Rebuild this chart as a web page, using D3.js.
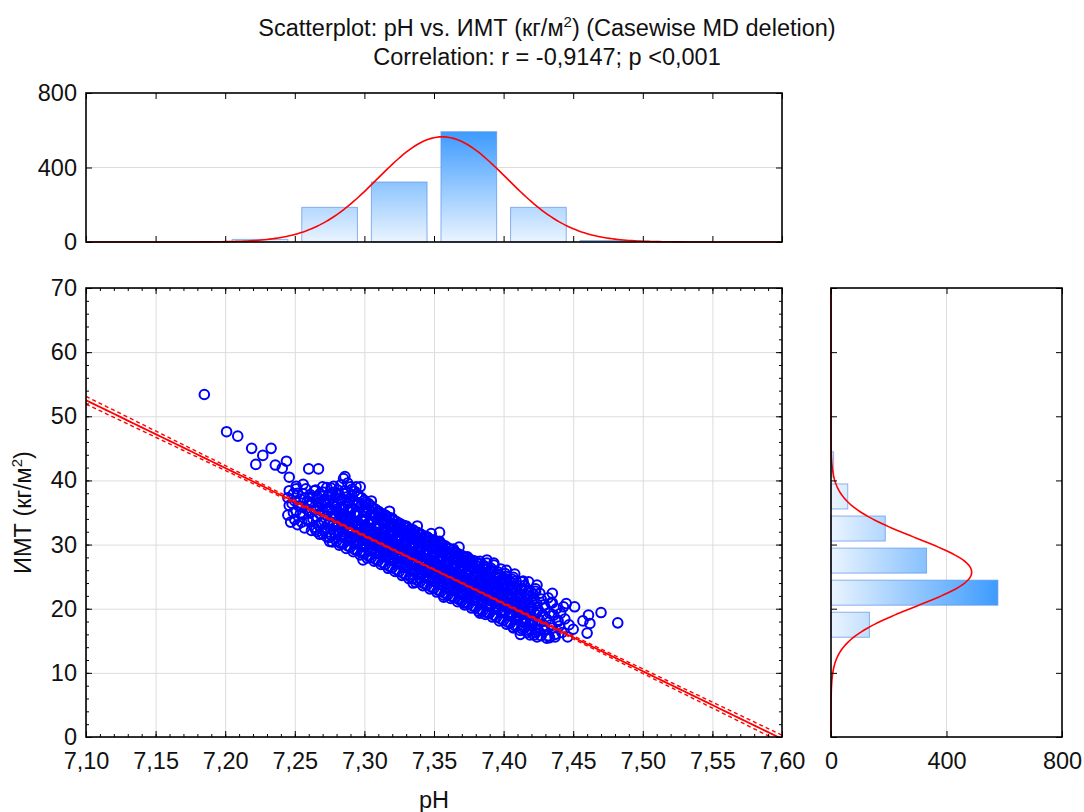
<!DOCTYPE html>
<html>
<head>
<meta charset="utf-8">
<script src="https://cdn.jsdelivr.net/npm/d3@7"></script>
<style>
  body { margin: 0; background: #fff; }
</style>
</head>
<body>
<script>
const width = 1084;
const height = 812;
const FONT = "'Liberation Sans', Arial, sans-serif";
const FS = 23.5;

// ---- data ----
const titleLines = ["Scatterplot: pH vs. ИМТ (кг/м", ") (Casewise MD deletion)"];
const subtitle = "Correlation: r = -0,9147; p <0,001";

const xTicks = [7.10, 7.15, 7.20, 7.25, 7.30, 7.35, 7.40, 7.45, 7.50, 7.55, 7.60];
const yTicks = [0, 10, 20, 30, 40, 50, 60, 70];
const countTicks = [0, 400, 800];

// pH histogram (top)
const phBinEdges = [7.20, 7.25, 7.30, 7.35, 7.40, 7.45, 7.50];
const phBinCounts = [14, 186, 322, 592, 186, 8];
// BMI histogram (right)
const bmiBinEdges = [15, 20, 25, 30, 35, 40, 45];
const bmiBinCounts = [133, 578, 331, 188, 58, 9];

// fitted normal curves
const phMean = 7.356, phSd = 0.0462;
const bmiMean = 25.7, bmiSd = 5.31;

// regression line BMI = fitAt710 + fitSlope*(pH-7.10), 95% band half width
const fitAt710 = 52.5, fitSlope = -105.6;
const bandMin = 0.1, bandGrowth = 2.33;

// observations [pH, BMI]
const observations = [
  [7.185,53.4],[7.201,47.6],[7.209,46.9],[7.219,45.0],[7.233,45.0],[7.227,43.9],[7.222,42.5],[7.244,43.0],
  [7.236,42.4],[7.241,41.9],[7.260,41.8],[7.267,41.8],[7.246,40.5],[7.256,39.4],[7.251,39.1],[7.270,39.0],
  [7.278,39.1],[7.285,40.3],[7.286,40.6],[7.294,39.0],[7.301,36.2],[7.311,34.6],[7.324,33.1],[7.333,32.1],
  [7.344,31.3],[7.354,31.9],[7.354,30.5],[7.364,29.3],[7.374,28.1],[7.383,27.4],[7.393,27.1],[7.413,24.2],
  [7.424,23.7],[7.435,22.4],[7.445,20.8],[7.451,20.3],[7.461,19.0],[7.470,19.4],[7.457,18.1],[7.462,17.7],
  [7.482,17.8],[7.460,16.2],[7.447,17.5],[7.450,16.8],[7.439,18.2],[7.437,15.6],[7.433,15.5],[7.424,15.6],
  [7.419,15.9],[7.429,16.7],[7.446,15.6],
  [7.297,39.0],[7.305,36.8],[7.318,35.2],[7.338,32.9],[7.348,31.7],[7.368,29.6],[7.388,27.6],[7.402,26.0],
  [7.408,25.4],[7.418,24.2],[7.275,30.5],[7.299,27.6],[7.335,24.0],[7.357,21.8],[7.371,20.9],[7.383,19.3],
  [7.407,17.0],[7.412,16.0],[7.431,15.4],
  [7.247,33.5],[7.245,34.6],[7.249,35.0],[7.246,36.1],[7.248,36.4],[7.245,37.3],[7.249,37.9],[7.246,38.4],
  [7.252,33.1],[7.250,33.9],[7.254,34.8],[7.251,35.2],[7.253,36.0],[7.250,36.8],[7.254,37.1],[7.252,38.0],[7.251,38.7],
  [7.257,32.6],[7.255,33.5],[7.259,33.9],[7.256,34.7],[7.258,35.6],[7.255,35.9],[7.259,36.8],[7.257,37.2],[7.256,37.9],[7.258,38.7],
  [7.262,32.2],[7.264,32.7],[7.260,33.6],[7.263,34.0],[7.261,34.9],[7.264,35.4],[7.260,36.2],[7.262,36.5],[7.263,37.4],[7.261,37.8],[7.264,38.4],
  [7.268,31.6],[7.265,32.3],[7.267,33.1],[7.269,33.4],[7.266,34.3],[7.268,34.8],[7.265,35.5],[7.269,36.3],[7.267,36.6],[7.266,37.5],[7.268,37.9],[7.265,38.5],
  [7.273,31.2],[7.270,31.7],[7.272,32.6],[7.274,33.2],[7.271,33.7],[7.273,34.5],[7.270,35.1],[7.274,35.7],[7.272,36.4],[7.271,37.0],[7.274,37.6],[7.270,38.2],[7.273,38.9],
  [7.277,30.4],[7.275,31.1],[7.279,31.6],[7.276,32.4],[7.278,33.1],[7.275,33.5],[7.279,34.3],[7.277,34.9],[7.276,35.4],[7.278,36.2],[7.275,36.9],[7.279,37.4],[7.277,38.1],[7.276,38.8],
  [7.282,29.9],[7.280,30.5],[7.284,31.3],[7.281,31.8],[7.283,32.6],[7.280,33.0],[7.282,33.9],[7.284,34.4],[7.281,35.1],[7.283,35.8],[7.280,36.3],[7.284,37.1],[7.282,37.7],[7.281,38.5],[7.283,39.3],
  [7.287,29.4],[7.285,30.2],[7.289,30.6],[7.286,31.5],[7.288,32.1],[7.285,32.8],[7.289,33.3],[7.287,34.1],[7.286,34.7],[7.288,35.3],[7.285,36.0],[7.289,36.8],[7.287,37.4],[7.286,38.4],[7.288,39.6],
  [7.292,28.9],[7.290,29.6],[7.294,30.1],[7.291,30.9],[7.293,31.4],[7.290,32.2],[7.294,32.7],[7.292,33.5],[7.291,34.0],[7.293,34.8],[7.290,35.5],[7.294,36.1],[7.292,36.9],[7.291,37.6],[7.293,38.3],[7.290,39.0],
  [7.297,28.4],[7.295,29.1],[7.299,29.7],[7.296,30.3],[7.298,30.8],[7.295,31.6],[7.299,32.1],[7.297,32.8],[7.296,33.3],[7.298,34.0],[7.295,34.6],[7.299,35.3],[7.297,35.9],[7.296,36.5],[7.298,37.3],[7.295,37.9],
  [7.302,27.9],[7.300,28.6],[7.304,29.0],[7.301,29.8],[7.303,30.3],[7.300,31.0],[7.304,31.5],[7.302,32.2],[7.301,32.7],[7.303,33.4],[7.300,33.9],[7.304,34.6],[7.302,35.2],[7.301,35.8],[7.303,36.4],[7.300,36.9],
  [7.307,27.4],[7.305,28.0],[7.309,28.7],[7.306,29.2],[7.308,29.8],[7.305,30.5],[7.309,30.9],[7.307,31.6],[7.306,32.1],[7.308,32.8],[7.305,33.4],[7.309,33.9],[7.307,34.6],[7.306,35.1],[7.308,35.5],[7.305,36.0],
  [7.312,26.9],[7.310,27.5],[7.314,28.1],[7.311,28.6],[7.313,29.3],[7.310,29.8],[7.314,30.4],[7.312,30.9],[7.311,31.5],[7.313,32.1],[7.310,32.6],[7.314,33.2],[7.312,33.8],[7.311,34.3],[7.313,34.8],[7.310,35.2],
  [7.317,26.3],[7.315,26.9],[7.319,27.6],[7.316,28.1],[7.318,28.7],[7.315,29.2],[7.319,29.9],[7.317,30.4],[7.316,30.9],[7.318,31.6],[7.315,32.1],[7.319,32.7],[7.317,33.2],[7.316,33.8],[7.318,34.2],[7.315,34.6],
  [7.322,25.8],[7.320,26.4],[7.324,27.0],[7.321,27.5],[7.323,28.2],[7.320,28.7],[7.324,29.3],[7.322,29.8],[7.321,30.4],[7.323,31.0],[7.320,31.5],[7.324,32.1],[7.322,32.7],[7.321,33.2],[7.323,33.6],[7.320,34.1],
  [7.327,25.2],[7.325,25.8],[7.329,26.5],[7.326,27.0],[7.328,27.6],[7.325,28.1],[7.329,28.8],[7.327,29.3],[7.326,29.8],[7.328,30.4],[7.325,31.0],[7.329,31.5],[7.327,32.1],[7.326,32.6],[7.328,33.0],[7.325,33.3],
  [7.332,24.7],[7.330,25.3],[7.334,25.9],[7.331,26.4],[7.333,27.1],[7.330,27.6],[7.334,28.2],[7.332,28.7],[7.331,29.3],[7.333,29.9],[7.330,30.4],[7.334,31.0],[7.332,31.5],[7.331,32.0],[7.333,32.4],[7.330,32.9],
  [7.337,24.1],[7.335,24.7],[7.339,25.4],[7.336,25.9],[7.338,26.5],[7.335,27.0],[7.339,27.7],[7.337,28.2],[7.336,28.7],[7.338,29.3],[7.335,29.9],[7.339,30.4],[7.337,31.0],[7.336,31.5],[7.338,31.9],[7.335,32.3],
  [7.342,23.6],[7.340,24.2],[7.344,24.8],[7.341,25.3],[7.343,26.0],[7.340,26.5],[7.344,27.1],[7.342,27.6],[7.341,28.2],[7.343,28.7],[7.340,29.3],[7.344,29.8],[7.342,30.4],[7.341,30.9],[7.343,31.3],[7.340,31.7],
  [7.347,23.1],[7.345,23.7],[7.349,24.3],[7.346,24.8],[7.348,25.5],[7.345,26.0],[7.349,26.6],[7.347,27.1],[7.346,27.7],[7.348,28.2],[7.345,28.8],[7.349,29.3],[7.347,29.9],[7.346,30.4],[7.348,30.8],[7.345,31.2],
  [7.352,22.6],[7.350,23.2],[7.354,23.8],[7.351,24.3],[7.353,25.0],[7.350,25.5],[7.354,26.1],[7.352,26.6],[7.351,27.2],[7.353,27.7],[7.350,28.3],[7.354,28.8],[7.352,29.4],[7.351,29.9],[7.353,30.3],[7.350,30.7],
  [7.357,22.1],[7.355,22.7],[7.359,23.3],[7.356,23.8],[7.358,24.5],[7.355,25.0],[7.359,25.6],[7.357,26.1],[7.356,26.7],[7.358,27.2],[7.355,27.8],[7.359,28.3],[7.357,28.9],[7.356,29.4],[7.358,29.8],[7.355,30.2],
  [7.362,21.6],[7.360,22.2],[7.364,22.8],[7.361,23.3],[7.363,23.9],[7.360,24.4],[7.364,25.0],[7.362,25.5],[7.361,26.1],[7.363,26.6],[7.360,27.2],[7.364,27.7],[7.362,28.2],[7.361,28.7],[7.363,29.1],[7.360,29.5],
  [7.367,21.1],[7.365,21.7],[7.369,22.3],[7.366,22.8],[7.368,23.4],[7.365,23.9],[7.369,24.5],[7.367,25.0],[7.366,25.6],[7.368,26.1],[7.365,26.7],[7.369,27.2],[7.367,27.7],[7.366,28.1],[7.368,28.5],[7.365,28.9],
  [7.372,20.6],[7.370,21.2],[7.374,21.8],[7.371,22.3],[7.373,22.9],[7.370,23.4],[7.374,24.0],[7.372,24.5],[7.371,25.1],[7.373,25.6],[7.370,26.2],[7.374,26.7],[7.372,27.2],[7.371,27.6],[7.373,28.0],[7.370,28.3],
  [7.377,20.1],[7.375,20.7],[7.379,21.3],[7.376,21.8],[7.378,22.4],[7.375,22.9],[7.379,23.5],[7.377,24.0],[7.376,24.6],[7.378,25.1],[7.375,25.7],[7.379,26.2],[7.377,26.7],[7.376,27.1],[7.378,27.5],[7.375,27.8],
  [7.382,19.6],[7.380,20.2],[7.384,20.8],[7.381,21.3],[7.383,21.9],[7.380,22.4],[7.384,23.0],[7.382,23.5],[7.381,24.1],[7.383,24.6],[7.380,25.2],[7.384,25.7],[7.382,26.2],[7.381,26.6],[7.383,27.0],[7.380,27.4],
  [7.387,19.1],[7.385,19.7],[7.389,20.4],[7.386,20.9],[7.388,21.5],[7.385,22.1],[7.389,22.7],[7.387,23.3],[7.386,23.9],[7.388,24.5],[7.385,25.1],[7.389,25.6],[7.387,26.1],[7.386,26.7],[7.388,27.1],
  [7.392,18.7],[7.390,19.3],[7.394,20.0],[7.391,20.5],[7.393,21.1],[7.390,21.7],[7.394,22.3],[7.392,22.9],[7.391,23.5],[7.393,24.1],[7.390,24.7],[7.394,25.2],[7.392,25.8],[7.391,26.3],[7.393,26.8],
  [7.397,18.1],[7.395,18.7],[7.399,19.4],[7.396,19.9],[7.398,20.5],[7.395,21.1],[7.399,21.7],[7.397,22.3],[7.396,22.9],[7.398,23.5],[7.395,24.1],[7.399,24.6],[7.397,25.2],[7.396,25.7],[7.398,26.2],
  [7.402,17.6],[7.400,18.2],[7.404,18.9],[7.401,19.5],[7.403,20.1],[7.400,20.7],[7.404,21.4],[7.402,22.0],[7.401,22.6],[7.403,23.2],[7.400,23.8],[7.404,24.4],[7.402,25.0],[7.401,25.5],
  [7.407,17.1],[7.405,17.8],[7.409,18.4],[7.406,19.1],[7.408,19.7],[7.405,20.4],[7.409,21.0],[7.407,21.7],[7.406,22.3],[7.408,23.0],[7.405,23.6],[7.409,24.3],[7.407,24.9],
  [7.412,16.6],[7.410,17.3],[7.414,18.0],[7.411,18.7],[7.413,19.4],[7.410,20.1],[7.414,20.8],[7.412,21.5],[7.411,22.2],[7.413,22.9],[7.410,23.6],[7.414,24.3],
  [7.417,16.3],[7.415,17.0],[7.419,17.8],[7.416,18.5],[7.418,19.2],[7.415,19.9],[7.419,20.6],[7.417,21.4],[7.416,22.1],[7.418,22.9],[7.415,23.6],
  [7.422,15.9],[7.420,16.7],[7.424,17.5],[7.421,18.3],[7.423,19.1],[7.420,19.9],[7.424,20.7],[7.422,21.5],[7.421,22.3],[7.423,23.1],
  [7.427,15.8],[7.425,16.6],[7.429,17.4],[7.426,18.2],[7.428,19.0],[7.425,19.8],[7.429,20.6],[7.427,21.5],[7.426,22.4],
  [7.432,15.8],[7.430,16.6],[7.434,17.5],[7.431,18.4],[7.433,19.3],[7.430,20.1],[7.434,20.9],[7.432,21.7],
  [7.437,16.0],[7.435,17.0],[7.439,18.0],[7.436,19.0],[7.438,20.0],[7.435,20.9],
  [7.442,16.3],[7.440,17.3],[7.444,18.4],[7.441,19.3],[7.443,20.3],
  // denser core
  [7.266,32.0],[7.268,35.9],[7.266,37.1],[7.271,32.2],[7.273,35.4],[7.271,36.7],[7.276,31.5],[7.278,34.6],[7.276,37.8],
  [7.283,30.2],[7.281,32.2],[7.284,33.6],[7.280,35.5],[7.283,36.9],[7.281,38.0],
  [7.288,29.8],[7.286,31.1],[7.289,32.4],[7.285,34.4],[7.288,36.4],[7.286,37.9],
  [7.293,29.2],[7.291,31.8],[7.294,33.1],[7.290,34.3],[7.293,36.5],[7.291,38.6],
  [7.298,28.7],[7.296,31.1],[7.299,33.6],[7.295,35.0],[7.298,36.2],[7.296,37.5],
  [7.303,28.2],[7.301,30.6],[7.304,32.0],[7.300,33.0],[7.303,35.5],[7.301,36.6],
  [7.308,27.7],[7.306,30.1],[7.309,31.3],[7.305,32.4],[7.308,34.3],[7.306,35.7],
  [7.313,27.2],[7.311,29.5],[7.314,31.2],[7.310,31.9],[7.313,33.5],[7.311,34.9],
  [7.318,26.6],[7.316,28.9],[7.319,30.3],[7.315,31.4],[7.318,32.9],[7.316,34.4],
  [7.323,26.1],[7.321,28.4],[7.324,29.6],[7.320,30.9],[7.323,32.4],[7.321,33.8],
  [7.328,25.5],[7.326,27.8],[7.329,29.0],[7.325,30.7],[7.328,31.8],[7.326,33.2],
  [7.333,25.0],[7.331,27.3],[7.334,28.5],[7.330,29.8],[7.333,31.2],[7.331,32.6],
  [7.338,24.4],[7.336,26.7],[7.339,28.0],[7.335,29.6],[7.338,30.7],[7.336,32.0],
  [7.343,23.9],[7.341,26.2],[7.344,27.4],[7.340,28.9],[7.343,30.1],[7.341,31.5],
  [7.348,23.4],[7.346,25.7],[7.349,26.9],[7.345,28.4],[7.348,29.6],[7.346,31.0],
  [7.353,22.9],[7.351,25.2],[7.354,26.4],[7.350,27.9],[7.353,29.1],[7.351,30.5],
  [7.358,22.4],[7.356,24.7],[7.359,25.9],[7.355,27.4],[7.358,28.6],[7.356,29.9],
  [7.363,21.9],[7.361,24.1],[7.364,25.3],[7.360,26.9],[7.363,28.0],[7.361,29.3],
  [7.368,21.4],[7.366,23.6],[7.369,24.8],[7.365,26.4],[7.368,27.5],[7.366,28.7],
  [7.373,20.9],[7.371,23.1],[7.374,24.3],[7.370,25.8],[7.373,27.0],[7.371,28.1],
  [7.378,20.4],[7.376,22.6],[7.379,23.8],[7.375,25.3],[7.378,26.5],[7.376,27.6],
  [7.383,19.9],[7.381,22.1],[7.384,23.3],[7.380,24.8],[7.383,25.9],[7.381,27.1],
  [7.388,19.4],[7.386,21.7],[7.389,23.0],[7.385,24.2],[7.388,25.4],[7.386,26.5],
  [7.393,19.0],[7.391,21.3],[7.394,22.6],[7.390,23.8],[7.393,24.9],[7.391,26.0],
  [7.398,18.4],[7.396,20.8],[7.399,22.0],[7.395,23.2],[7.398,24.4],[7.396,25.4],
  [7.403,17.9],[7.401,20.4],[7.404,21.7],[7.400,22.3],[7.403,23.5],[7.401,24.7],
  [7.408,17.4],[7.406,19.4],[7.409,20.7],[7.405,22.0],[7.408,23.3],[7.406,24.6],
  [7.413,16.9],[7.411,19.0],[7.414,20.4],[7.410,21.8],[7.413,23.2],
  [7.418,16.6],[7.416,18.1],[7.419,19.5],[7.415,21.0],[7.418,22.5],
  [7.423,16.3],[7.421,17.9],[7.424,19.5],[7.420,21.1],[7.423,22.7],
  [7.284,32.0],[7.281,33.2],[7.283,34.7],[7.280,35.9],[7.289,31.3],[7.286,32.9],[7.288,34.0],[7.285,35.6],
  [7.294,30.8],[7.291,32.4],[7.293,33.5],[7.290,35.1],[7.299,30.2],[7.296,31.8],[7.298,32.9],[7.295,34.5],
  [7.304,29.9],[7.301,31.1],[7.303,32.6],[7.300,33.8],[7.309,29.2],[7.306,30.8],[7.308,31.9],[7.305,33.5],
  [7.314,28.8],[7.311,30.0],[7.313,31.5],[7.310,32.7],[7.319,28.1],[7.316,29.7],[7.318,30.8],[7.315,32.4],
  [7.324,27.8],[7.321,29.0],[7.323,30.5],[7.320,31.7],[7.329,27.1],[7.326,28.7],[7.328,29.8],[7.325,31.4],
  [7.334,26.7],[7.331,27.9],[7.333,29.4],[7.330,30.6],[7.339,26.0],[7.336,27.6],[7.338,28.7],[7.335,30.3],
  [7.344,25.7],[7.341,26.9],[7.343,28.4],[7.340,29.6],[7.349,24.9],[7.346,26.5],[7.348,27.6],[7.345,29.2],
  [7.354,24.6],[7.351,25.8],[7.353,27.3],[7.350,28.5],[7.359,23.9],[7.356,25.5],[7.358,26.6],[7.355,28.2],
  [7.364,23.5],[7.361,24.7],[7.363,26.2],[7.360,27.4],[7.369,22.8],[7.366,24.4],[7.368,25.5],[7.365,27.1],
  [7.374,22.5],[7.371,23.7],[7.373,25.2],[7.370,26.4],[7.379,21.8],[7.376,23.4],[7.378,24.5],[7.375,26.1],
  [7.384,21.4],[7.381,22.6],[7.383,24.1],[7.380,25.3],[7.389,20.7],[7.386,22.3],[7.388,23.4],[7.385,25.0],
  [7.394,20.4],[7.391,21.6],[7.393,23.1],[7.390,24.3],[7.399,19.6],[7.396,21.2],[7.398,22.3],[7.395,23.9],
  [7.404,19.3],[7.401,20.5],[7.403,22.0],[7.400,23.2],[7.409,18.6],[7.406,20.2],[7.408,21.3],[7.405,22.9],
  [7.414,18.2],[7.411,19.4],[7.413,20.9],[7.410,22.1],[7.419,17.5],[7.416,19.1],[7.418,20.2],[7.415,21.8]
];

// ---- layout ----
const main = { left: 86, right: 782, top: 288, bottom: 737 };
const topH = { top: 93, bottom: 242 };
const sideH = { left: 831, right: 1062 };

const x = d3.scaleLinear().domain([7.10, 7.60]).range([main.left, main.right]);
const y = d3.scaleLinear().domain([0, 70]).range([main.bottom, main.top]);
const hy = d3.scaleLinear().domain([0, 800]).range([topH.bottom, topH.top]);
const hx = d3.scaleLinear().domain([0, 800]).range([sideH.left, sideH.right]);

const ru = d3.formatLocale({ decimal: ",", thousands: " ", grouping: [3], currency: ["", ""] });
const fmt2 = ru.format(".2f");

const svg = d3.select("body").append("svg")
  .attr("width", width)
  .attr("height", height)
  .style("font-family", FONT);

const defs = svg.append("defs");
defs.append("clipPath").attr("id", "clipMain").append("rect")
  .attr("x", main.left).attr("y", main.top)
  .attr("width", main.right - main.left).attr("height", main.bottom - main.top);

const gradTop = defs.append("linearGradient").attr("id", "gradTop")
  .attr("gradientUnits", "userSpaceOnUse")
  .attr("x1", 0).attr("y1", hy(0)).attr("x2", 0).attr("y2", hy(d3.max(phBinCounts)));
gradTop.append("stop").attr("offset", 0).attr("stop-color", "#eaf4ff");
gradTop.append("stop").attr("offset", 1).attr("stop-color", "#3d9bff");

const gradSide = defs.append("linearGradient").attr("id", "gradSide")
  .attr("gradientUnits", "userSpaceOnUse")
  .attr("x1", hx(0)).attr("y1", 0).attr("x2", hx(d3.max(bmiBinCounts))).attr("y2", 0);
gradSide.append("stop").attr("offset", 0).attr("stop-color", "#eaf4ff");
gradSide.append("stop").attr("offset", 1).attr("stop-color", "#3d9bff");

function styleAxis(g) {
  g.attr("font-family", FONT).attr("font-size", FS);
  g.select(".domain").remove();
  g.selectAll("line").attr("stroke", "#000");
  g.selectAll("text").attr("fill", "#111");
}

// ---- title ----
const t1 = svg.append("text").attr("x", 547).attr("y", 36)
  .attr("text-anchor", "middle").attr("font-size", FS).attr("fill", "#111");
t1.append("tspan").text(titleLines[0]);
t1.append("tspan").attr("font-size", 15).attr("dy", -9).text("2");
t1.append("tspan").attr("dy", 9).text(titleLines[1]);
svg.append("text").attr("x", 547).attr("y", 65)
  .attr("text-anchor", "middle").attr("font-size", FS).attr("fill", "#111")
  .text(subtitle);

// ---- main plot grid ----
svg.append("g").attr("transform", `translate(0,${main.bottom})`)
  .call(d3.axisBottom(x).tickValues(xTicks).tickSize(-(main.bottom - main.top)).tickFormat(""))
  .call(g => { g.select(".domain").remove(); g.selectAll("line").attr("stroke", "#dcdcdc"); });
svg.append("g").attr("transform", `translate(${main.left},0)`)
  .call(d3.axisLeft(y).tickValues(yTicks).tickSize(-(main.right - main.left)).tickFormat(""))
  .call(g => { g.select(".domain").remove(); g.selectAll("line").attr("stroke", "#dcdcdc"); });

// ---- scatter points ----
svg.append("g").attr("clip-path", "url(#clipMain)")
  .selectAll("circle").data(observations).join("circle")
  .attr("cx", d => x(d[0]))
  .attr("cy", d => y(d[1]))
  .attr("r", 4.8)
  .attr("fill", "none")
  .attr("stroke", "#0000ff")
  .attr("stroke-width", 2);

// ---- regression line with confidence band ----
const fit = ph => fitAt710 + fitSlope * (ph - 7.10);
const phMid = 7.355;
const halfBand = ph => Math.sqrt(bandMin * bandMin + bandGrowth * bandGrowth * (ph - phMid) * (ph - phMid));
const phGrid = d3.range(7.10, 7.6001, 0.005);
const fitG = svg.append("g").attr("clip-path", "url(#clipMain)");
fitG.append("path")
  .attr("d", d3.line().x(p => x(p)).y(p => y(fit(p)))(phGrid))
  .attr("fill", "none").attr("stroke", "#ff0000").attr("stroke-width", 1.8);
[-1, 1].forEach(s => {
  fitG.append("path")
    .attr("d", d3.line().x(p => x(p)).y(p => y(fit(p) + s * halfBand(p)))(phGrid))
    .attr("fill", "none").attr("stroke", "#ff0000").attr("stroke-width", 1.4)
    .attr("stroke-dasharray", "4,3");
});

// ---- main frame + ticks ----
svg.append("rect")
  .attr("x", main.left).attr("y", main.top)
  .attr("width", main.right - main.left).attr("height", main.bottom - main.top)
  .attr("fill", "none").attr("stroke", "#000").attr("stroke-width", 1.6);

svg.append("g").attr("transform", `translate(0,${main.bottom})`)
  .call(d3.axisBottom(x).tickValues(xTicks).tickFormat(fmt2).tickSize(-6).tickSizeOuter(0).tickPadding(15))
  .call(styleAxis);
svg.append("g").attr("transform", `translate(0,${main.bottom})`)
  .call(d3.axisBottom(x).tickValues(x.ticks(50)).tickFormat("").tickSize(-3).tickSizeOuter(0))
  .call(styleAxis);
svg.append("g").attr("transform", `translate(0,${main.top})`)
  .call(d3.axisTop(x).tickValues(xTicks).tickFormat("").tickSize(-6).tickSizeOuter(0))
  .call(styleAxis);
svg.append("g").attr("transform", `translate(0,${main.top})`)
  .call(d3.axisTop(x).tickValues(x.ticks(50)).tickFormat("").tickSize(-3).tickSizeOuter(0))
  .call(styleAxis);
svg.append("g").attr("transform", `translate(${main.left},0)`)
  .call(d3.axisLeft(y).tickValues(yTicks).tickSize(-6).tickSizeOuter(0).tickPadding(9))
  .call(styleAxis);
svg.append("g").attr("transform", `translate(${main.left},0)`)
  .call(d3.axisLeft(y).tickValues(y.ticks(35)).tickFormat("").tickSize(-3).tickSizeOuter(0))
  .call(styleAxis);
svg.append("g").attr("transform", `translate(${main.right},0)`)
  .call(d3.axisRight(y).tickValues(yTicks).tickFormat("").tickSize(-6).tickSizeOuter(0))
  .call(styleAxis);
svg.append("g").attr("transform", `translate(${main.right},0)`)
  .call(d3.axisRight(y).tickValues(y.ticks(35)).tickFormat("").tickSize(-3).tickSizeOuter(0))
  .call(styleAxis);

svg.append("text").attr("x", (main.left + main.right) / 2).attr("y", 808)
  .attr("text-anchor", "middle").attr("font-size", FS).attr("fill", "#111").text("pH");
const yl = svg.append("text")
  .attr("transform", `translate(31,${(main.top + main.bottom) / 2}) rotate(-90)`)
  .attr("text-anchor", "middle").attr("font-size", FS).attr("fill", "#111");
yl.append("tspan").text("ИМТ (кг/м");
yl.append("tspan").attr("font-size", 15).attr("dy", -9).text("2");
yl.append("tspan").attr("dy", 9).text(")");

// ---- top histogram (pH) ----
svg.append("line")
  .attr("x1", main.left).attr("x2", main.right).attr("y1", hy(400)).attr("y2", hy(400))
  .attr("stroke", "#dcdcdc");
const phBins = phBinCounts.map((c, i) => ({ x0: phBinEdges[i], x1: phBinEdges[i + 1], n: c }));
svg.append("g").selectAll("rect").data(phBins).join("rect")
  .attr("x", d => x(d.x0) + (x(d.x1) - x(d.x0)) * 0.1)
  .attr("width", d => (x(d.x1) - x(d.x0)) * 0.8)
  .attr("y", d => hy(d.n))
  .attr("height", d => hy(0) - hy(d.n))
  .attr("fill", "url(#gradTop)")
  .attr("stroke", "#5f93e6").attr("stroke-opacity", 0.7).attr("stroke-width", 1);

const phTotal = d3.sum(phBinCounts);
const phBw = phBinEdges[1] - phBinEdges[0];
const phCurve = d3.range(7.10, 7.6001, 0.002).map(p =>
  [p, phTotal * phBw * Math.exp(-0.5 * ((p - phMean) / phSd) ** 2) / (phSd * Math.sqrt(2 * Math.PI))]);
svg.append("path")
  .attr("d", d3.line().x(d => x(d[0])).y(d => hy(d[1]))(phCurve))
  .attr("fill", "none").attr("stroke", "#ff0000").attr("stroke-width", 1.6);

svg.append("rect")
  .attr("x", main.left).attr("y", topH.top)
  .attr("width", main.right - main.left).attr("height", topH.bottom - topH.top)
  .attr("fill", "none").attr("stroke", "#000").attr("stroke-width", 1.6);
svg.append("g").attr("transform", `translate(0,${topH.bottom})`)
  .call(d3.axisBottom(x).tickValues(xTicks).tickFormat("").tickSize(-6).tickSizeOuter(0))
  .call(styleAxis);
svg.append("g").attr("transform", `translate(0,${topH.top})`)
  .call(d3.axisTop(x).tickValues(xTicks).tickFormat("").tickSize(-6).tickSizeOuter(0))
  .call(styleAxis);
svg.append("g").attr("transform", `translate(${main.left},0)`)
  .call(d3.axisLeft(hy).tickValues(countTicks).tickFormat(d3.format("d")).tickSize(-6).tickSizeOuter(0).tickPadding(9))
  .call(styleAxis);
svg.append("g").attr("transform", `translate(${main.right},0)`)
  .call(d3.axisRight(hy).tickValues(countTicks).tickFormat("").tickSize(-6).tickSizeOuter(0))
  .call(styleAxis);

// ---- side histogram (BMI) ----
svg.append("line")
  .attr("x1", hx(400)).attr("x2", hx(400)).attr("y1", main.top).attr("y2", main.bottom)
  .attr("stroke", "#dcdcdc");
const bmiBins = bmiBinCounts.map((c, i) => ({ y0: bmiBinEdges[i], y1: bmiBinEdges[i + 1], n: c }));
svg.append("g").selectAll("rect").data(bmiBins).join("rect")
  .attr("x", hx(0))
  .attr("width", d => hx(d.n) - hx(0))
  .attr("y", d => y(d.y1) + (y(d.y0) - y(d.y1)) * 0.11)
  .attr("height", d => (y(d.y0) - y(d.y1)) * 0.78)
  .attr("fill", "url(#gradSide)")
  .attr("stroke", "#5f93e6").attr("stroke-opacity", 0.7).attr("stroke-width", 1);

const bmiTotal = d3.sum(bmiBinCounts);
const bmiBw = bmiBinEdges[1] - bmiBinEdges[0];
const bmiCurve = d3.range(0, 70.01, 0.2).map(b =>
  [b, bmiTotal * bmiBw * Math.exp(-0.5 * ((b - bmiMean) / bmiSd) ** 2) / (bmiSd * Math.sqrt(2 * Math.PI))]);
svg.append("path")
  .attr("d", d3.line().x(d => hx(d[1])).y(d => y(d[0]))(bmiCurve))
  .attr("fill", "none").attr("stroke", "#ff0000").attr("stroke-width", 1.6);

svg.append("rect")
  .attr("x", sideH.left).attr("y", main.top)
  .attr("width", sideH.right - sideH.left).attr("height", main.bottom - main.top)
  .attr("fill", "none").attr("stroke", "#000").attr("stroke-width", 1.6);
svg.append("g").attr("transform", `translate(${sideH.left},0)`)
  .call(d3.axisLeft(y).tickValues(yTicks).tickFormat("").tickSize(-6).tickSizeOuter(0))
  .call(styleAxis);
svg.append("g").attr("transform", `translate(${sideH.right},0)`)
  .call(d3.axisRight(y).tickValues(yTicks).tickFormat("").tickSize(-6).tickSizeOuter(0))
  .call(styleAxis);
svg.append("g").attr("transform", `translate(0,${main.bottom})`)
  .call(d3.axisBottom(hx).tickValues(countTicks).tickFormat(d3.format("d")).tickSize(-6).tickSizeOuter(0).tickPadding(15))
  .call(styleAxis);
svg.append("g").attr("transform", `translate(0,${main.top})`)
  .call(d3.axisTop(hx).tickValues(countTicks).tickFormat("").tickSize(-6).tickSizeOuter(0))
  .call(styleAxis);
</script>
</body>
</html>
